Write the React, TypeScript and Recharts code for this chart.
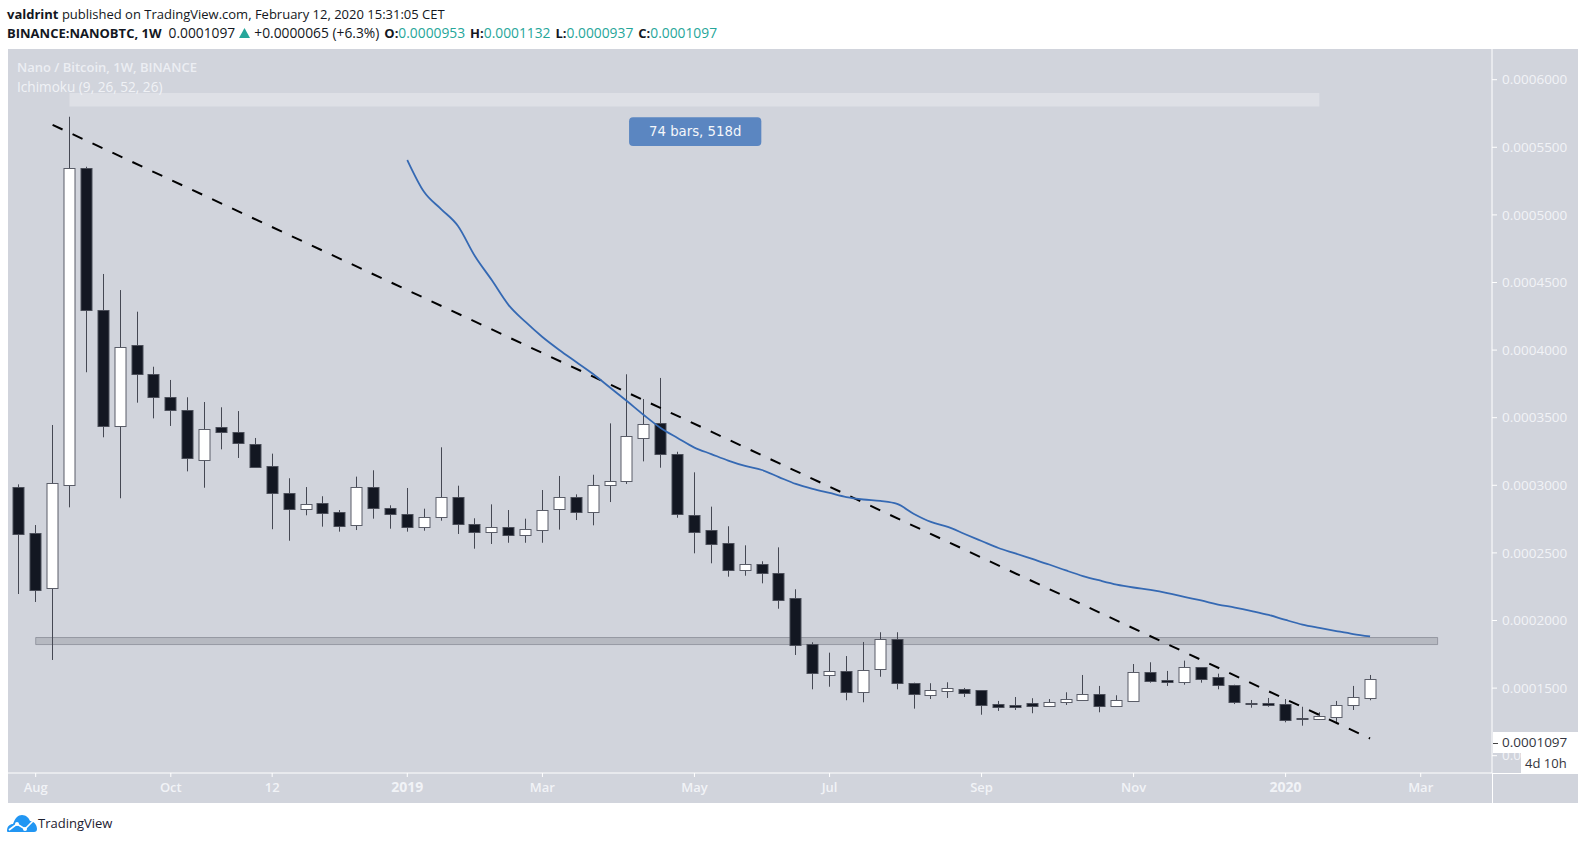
import {
    Bar,
    ComposedChart,
    Line,
    ReferenceArea,
    XAxis,
    YAxis,
} from "recharts";

// All prices are BTC x 1e7, so 2995 reads 0.0002995
const opens = [
    2990, 2645, 2240, 3000, 5349, 4296, 3441, 4038, 3825, 3655, 3557, 3187, 3429, 3394, 3305, 3143, 2945,
    2822, 2871, 2800, 2706, 2987, 2832, 2790, 2689, 2763, 2913, 2716, 2652, 2692, 2635, 2666, 2822, 2916,
    2805, 3000, 3032, 3350, 3458, 3231, 2782, 2672, 2573, 2371, 2418, 2354, 2166, 1824, 1599, 1629, 1469,
    1639, 1865, 1540, 1451, 1476, 1491, 1484, 1380, 1377, 1388, 1370, 1395, 1412, 1459, 1370, 1407, 1621,
    1558, 1543, 1654, 1580, 1525, 1392, 1388, 1385, 1281, 1274, 1289, 1373, 1429,
];
const highs = [
    3007, 2706, 3446, 5726, 5356, 4563, 4444, 4284, 3877, 3779, 3651, 3616, 3577, 3549, 3350, 3234, 3052,
    2987, 2919, 2817, 3064, 3111, 2852, 2980, 2827, 3281, 2997, 2756, 2859, 2817, 2753, 2965, 3069, 2933,
    3078, 3458, 3821, 3638, 3794, 3248, 3096, 2842, 2697, 2556, 2438, 2541, 2231, 1839, 1762, 1737, 1841,
    1913, 1913, 1540, 1536, 1543, 1501, 1484, 1405, 1434, 1425, 1419, 1469, 1597, 1516, 1447, 1678, 1691,
    1627, 1703, 1654, 1607, 1525, 1412, 1427, 1419, 1362, 1321, 1405, 1516, 1597,
];
const lows = [
    2196, 2137, 1708, 2837, 3836, 3355, 2904, 3611, 3495, 3439, 3103, 2982, 3266, 3202, 3130, 2675, 2590,
    2778, 2694, 2657, 2669, 2753, 2679, 2657, 2664, 2738, 2640, 2531, 2566, 2575, 2575, 2575, 2672, 2743,
    2704, 2876, 3010, 3177, 3130, 2760, 2497, 2423, 2324, 2331, 2275, 2087, 1745, 1491, 1510, 1410, 1395,
    1584, 1491, 1348, 1419, 1427, 1434, 1303, 1331, 1338, 1314, 1362, 1375, 1412, 1321, 1370, 1407, 1540,
    1516, 1525, 1540, 1491, 1382, 1355, 1362, 1247, 1222, 1269, 1235, 1338, 1410,
];
const closes = [
    2640, 2226, 3015, 5344, 4294, 3441, 4025, 3821, 3651, 3555, 3202, 3419, 3392, 3311, 3137, 2943, 2822,
    2864, 2797, 2697, 2985, 2830, 2788, 2689, 2768, 2913, 2714, 2652, 2694, 2635, 2679, 2815, 2915, 2805,
    3002, 3034, 3362, 3451, 3229, 2785, 2657, 2568, 2373, 2418, 2349, 2154, 1819, 1609, 1629, 1469, 1636,
    1865, 1536, 1454, 1484, 1499, 1466, 1373, 1362, 1362, 1370, 1395, 1417, 1459, 1370, 1410, 1621, 1550,
    1547, 1654, 1570, 1521, 1395, 1380, 1377, 1266, 1269, 1296, 1377, 1432, 1565,
];

// Blue Ichimoku baseline, starts at bar 23
const baselineStart = 23;
const baseline = [
    5406, 5169, 5043, 4918, 4696, 4518, 4333, 4208, 4097, 4001, 3912, 3823, 3723, 3623, 3520, 3424, 3350,
    3279, 3231, 3183, 3143, 3113, 3061, 3010, 2973, 2943, 2913, 2895, 2884, 2862, 2788, 2729, 2692, 2640,
    2588, 2536, 2496, 2455, 2414, 2370, 2329, 2296, 2266, 2244, 2226, 2203, 2174, 2148, 2118, 2096, 2070,
    2041, 2004, 1970, 1945, 1922, 1900, 1882,
];

// Dashed trend line: [bar, price]
const trendPoints = [
    [2, 5666],
    [80, 1127],
];

const priceTicks = [1000, 1500, 2000, 2500, 3000, 3500, 4000, 4500, 5000, 5500, 6000];
const timeTicks = [1, 9, 15, 23, 31, 40, 48, 57, 66, 75, 83];
const timeLabels = ["Aug", "Oct", "12", "2019", "Mar", "May", "Jul", "Sep", "Nov", "2020", "Mar"];

const supportZone = { fromBar: 1, toBar: 84, low: 1822, high: 1874 };
const measureBand = { fromBar: 3, toBar: 77, low: 5802, high: 5901 };
const measureLabel = { fromBar: 36.13, toBar: 43.96, low: 5509, high: 5723, text: "74 bars, 518d" };

const chartData = highs.map((high, i) => ({
    bar: i,
    range: [lows[i], high],
    open: opens[i],
    close: closes[i],
    high,
    low: lows[i],
    baseline: i >= baselineStart ? baseline[i - baselineStart] : null,
    trend: trendPoints.find((p) => p[0] === i)?.[1] ?? null,
}));

const FONT = '"Open Sans", "Noto Sans", sans-serif';
const AXIS_TEXT = "#f1f3f7";

function Candle(props: any) {
    const { x, y, width, height, payload } = props;
    const perUnit = height / (payload.high - payload.low);
    const yOf = (v: number) => y + (payload.high - v) * perUnit;
    const up = payload.close >= payload.open;
    const cx = Math.round(x + width / 2) + 0.5;
    const top = Math.round(yOf(Math.max(payload.open, payload.close))) + 0.5;
    const bottom = Math.round(yOf(Math.min(payload.open, payload.close))) + 0.5;
    return (
        <g>
            <line x1={cx} x2={cx} y1={y} y2={y + height} stroke="#454853" strokeWidth={1} />
            <rect
                x={cx - 5.5}
                y={top}
                width={11}
                height={Math.max(bottom - top, 1)}
                fill={up ? "#ffffff" : "#131722"}
                stroke={up ? "#5a5d68" : "#4b4e59"}
                strokeWidth={1}
            />
        </g>
    );
}

function MeasureLabel(props: any) {
    const { x, y, width, height } = props;
    return (
        <g>
            <rect x={x} y={y} width={width} height={height} rx={4} fill="#5b86c1" />
            <text
                x={x + width / 2}
                y={y + height / 2 + 4.5}
                textAnchor="middle"
                fontFamily='"DejaVu Sans", sans-serif'
                fontSize={13.3}
                fill="#f4f6fa"
            >
                {measureLabel.text}
            </text>
        </g>
    );
}

function TimeTick(props: any) {
    const { x, y, payload } = props;
    const label = timeLabels[timeTicks.indexOf(payload.value)];
    const isYear = label.length === 4;
    return (
        <text
            x={x}
            y={y + 13}
            textAnchor="middle"
            fontFamily={FONT}
            fontSize={isYear ? 14 : 13}
            fontWeight={isYear ? 700 : 600}
            fill={AXIS_TEXT}
        >
            {label}
        </text>
    );
}

const TEAL = "#26a69a";

function Ohlc({ name, value }: { name: string; value: string }) {
    return (
        <span style={{ marginLeft: 5 }}>
            <b>{name}</b>
            <span style={{ color: TEAL, fontSize: 13.8 }}>{value}</span>
        </span>
    );
}

export default function App() {
    return (
        <div
            style={{
                position: "absolute",
                left: 0,
                top: 0,
                width: 1586,
                height: 844,
                background: "#ffffff",
                overflow: "hidden",
                fontFamily: FONT,
                color: "#131722",
            }}
        >
            <div style={{ position: "absolute", left: 8, top: 49, width: 1570, height: 754, background: "#d1d4dc" }} />

            <ComposedChart
                width={1586}
                height={844}
                data={chartData}
                margin={{ top: 49, right: 8, bottom: 41, left: 8 }}
                style={{ position: "absolute", left: 0, top: 0 }}
            >
                <XAxis
                    dataKey="bar"
                    type="number"
                    domain={[-0.64, 87.22]}
                    allowDataOverflow
                    ticks={timeTicks}
                    tick={<TimeTick />}
                    interval={0}
                    height={30}
                    tickSize={4}
                    stroke="#ffffff"
                />
                <YAxis
                    orientation="right"
                    type="number"
                    domain={[872, 6227]}
                    allowDataOverflow
                    ticks={priceTicks}
                    interval={0}
                    width={86}
                    tickSize={5}
                    tickMargin={5}
                    stroke="#ffffff"
                    tick={{ fill: AXIS_TEXT, fontSize: 13.5, fontFamily: FONT, textAnchor: "start" }}
                    tickFormatter={(v: number) => (v / 1e7).toFixed(7)}
                />
                <ReferenceArea
                    x1={measureBand.fromBar}
                    x2={measureBand.toBar}
                    y1={measureBand.low}
                    y2={measureBand.high}
                    fill="#dee0e6"
                    fillOpacity={1}
                    stroke="none"
                />
                <ReferenceArea
                    x1={measureLabel.fromBar}
                    x2={measureLabel.toBar}
                    y1={measureLabel.low}
                    y2={measureLabel.high}
                    shape={<MeasureLabel />}
                />
                <Bar dataKey="range" barSize={12} shape={<Candle />} isAnimationActive={false} />
                <ReferenceArea
                    x1={supportZone.fromBar}
                    x2={supportZone.toBar}
                    y1={supportZone.low}
                    y2={supportZone.high}
                    fill="#787b86"
                    fillOpacity={0.3}
                    stroke="#787b86"
                    strokeOpacity={0.6}
                    strokeWidth={1}
                />
                <Line
                    dataKey="trend"
                    connectNulls
                    dot={false}
                    stroke="#000000"
                    strokeWidth={2}
                    strokeDasharray="11 11"
                    isAnimationActive={false}
                />
                <Line
                    dataKey="baseline"
                    type="monotone"
                    dot={false}
                    stroke="#3569b3"
                    strokeWidth={1.8}
                    isAnimationActive={false}
                />
            </ComposedChart>

            {/* axis lines run on past the plot corner */}
            <div style={{ position: "absolute", left: 1492, top: 773, width: 86, height: 1, background: "#fff" }} />
            <div style={{ position: "absolute", left: 1492, top: 773, width: 1, height: 30, background: "#fff" }} />

            {/* header */}
            <div style={{ position: "absolute", left: 7, top: 5, fontSize: 13, lineHeight: "19px", whiteSpace: "nowrap" }}>
                <b>valdrint</b> published on TradingView.com, February 12, 2020 15:31:05 CET
            </div>
            <div style={{ position: "absolute", left: 7, top: 23, fontSize: 13, lineHeight: "19px", whiteSpace: "nowrap" }}>
                <b>BINANCE:NANOBTC, 1W</b>
                <span style={{ marginLeft: 7, fontSize: 13.8 }}>0.0001097</span>
                <svg width={11} height={10} style={{ margin: "0 4px" }}>
                    <path d="M5.5 0 L11 10 L0 10 Z" fill={TEAL} />
                </svg>
                <span style={{ fontSize: 13.8 }}>+0.0000065 (+6.3%)</span>
                <Ohlc name="O:" value="0.0000953" />
                <Ohlc name="H:" value="0.0001132" />
                <Ohlc name="L:" value="0.0000937" />
                <Ohlc name="C:" value="0.0001097" />
            </div>

            {/* watermark legend */}
            <div style={{ position: "absolute", left: 17, top: 58, fontSize: 13, lineHeight: "19px", fontWeight: 600, color: "#eceef3" }}>
                Nano / Bitcoin, 1W, BINANCE
            </div>
            <div style={{ position: "absolute", left: 17, top: 77, fontSize: 13.6, lineHeight: "19px", color: "#f0f2f6" }}>
                Ichimoku (9, 26, 52, 26)
            </div>

            {/* last price and countdown on the price scale */}
            <div style={{ position: "absolute", left: 1493, top: 732, width: 85, height: 21, background: "#fff" }} />
            <div style={{ position: "absolute", left: 1493, top: 743, width: 5, height: 1, background: "#444" }} />
            <div style={{ position: "absolute", left: 1502, top: 732, fontSize: 13.5, lineHeight: "21px", color: "#333640" }}>
                0.0001097
            </div>
            <div style={{ position: "absolute", left: 1521, top: 753, width: 57, height: 20, background: "#fff" }} />
            <div style={{ position: "absolute", left: 1525, top: 753, fontSize: 13, lineHeight: "20px", color: "#333640" }}>
                4d 10h
            </div>

            {/* logo */}
            <svg width={30} height={18} style={{ position: "absolute", left: 7, top: 815 }}>
                <path
                    d="M0 16 C0 11 3 9 6 9 C8 3 11 0 15 0 C19 0 22 3 23 6 C27 6 30 10 30 14 C30 16 29 17 27 17 L2 17 C1 17 0 17 0 16 Z"
                    fill="#2196f3"
                />
                <path d="M2 15 L10 9 L18 14 L26 6" fill="none" stroke="#ffffff" strokeWidth={1.6} />
                <circle cx={10} cy={9} r={2} fill="#ffffff" />
                <circle cx={18} cy={14} r={2} fill="#ffffff" />
            </svg>
            <div style={{ position: "absolute", left: 38, top: 813, fontSize: 13, lineHeight: "20px", color: "#1c2030" }}>
                TradingView
            </div>
        </div>
    );
}
